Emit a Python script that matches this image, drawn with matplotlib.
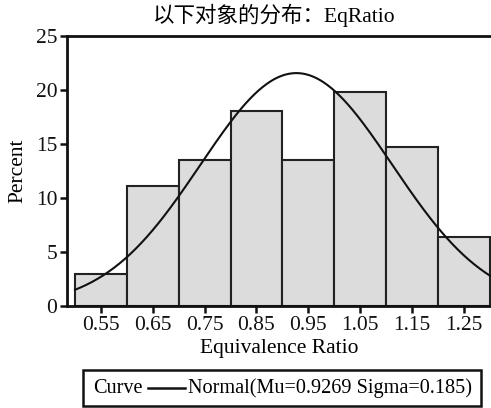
import numpy as np
import matplotlib.pyplot as plt
from matplotlib.patches import Rectangle
from matplotlib.lines import Line2D

plt.rcParams["font.family"] = ["Liberation Serif", "Noto Sans CJK SC", "DejaVu Sans"]

# histogram data (percent per bin)
bin_edges = [0.50, 0.60, 0.70, 0.80, 0.90, 1.00, 1.10, 1.20, 1.30]
percents = [3.0, 11.1, 13.5, 18.1, 13.5, 19.8, 14.7, 6.4]
tick_values = [0.55, 0.65, 0.75, 0.85, 0.95, 1.05, 1.15, 1.25]
tick_labels = ["0.55", "0.65", "0.75", "0.85", "0.95", "1.05", "1.15", "1.25"]

# fitted normal curve parameters
mu = 0.9269
sigma = 0.185
bin_width = 0.1

title = "以下对象的分布：EqRatio"
legend_text = "Normal(Mu=0.9269 Sigma=0.185)"


def main():
    fig = plt.figure(figsize=(4.91, 4.08), dpi=100)
    ax = fig.add_axes([0.1365, 0.25, 0.863, 0.6618])

    lefts = bin_edges[:-1]
    widths = np.diff(bin_edges)
    ax.bar(lefts, percents, width=widths, align="edge",
           color="#dcdcdc", edgecolor="#222222", linewidth=1.5)

    xs = np.linspace(bin_edges[0], bin_edges[-1], 300)
    ys = 100 * bin_width * np.exp(-0.5 * ((xs - mu) / sigma) ** 2) / (sigma * np.sqrt(2 * np.pi))
    ax.plot(xs, ys, color="#111111", linewidth=1.5)

    ax.set_xlim(0.4845, 1.302)
    ax.set_ylim(0, 25)
    ax.set_xticks(tick_values)
    ax.set_xticklabels(tick_labels)
    ax.set_yticks([0, 5, 10, 15, 20, 25])

    for side in ["left", "top", "bottom"]:
        ax.spines[side].set_linewidth(2.0)
        ax.spines[side].set_color("#111111")
    ax.spines["right"].set_visible(False)

    ax.tick_params(axis="both", direction="out", length=5, width=1.8,
                   labelsize=15.5, colors="#111111", pad=2)

    ax.set_xlabel("Equivalence Ratio", fontsize=15.5, labelpad=3)
    ax.set_ylabel("Percent", fontsize=15.5, labelpad=6)
    fig.text(0.558, 0.963, title, fontsize=15.5, ha="center", va="center")

    # legend box below the axes
    fig.patches.append(Rectangle((0.169, 0.004), 0.811, 0.089, transform=fig.transFigure,
                                 fill=False, edgecolor="#111111", linewidth=1.8))
    fig.text(0.189, 0.048, "Curve", fontsize=14.6, ha="left", va="center")
    fig.lines.append(Line2D([0.301, 0.377], [0.048, 0.048], transform=fig.transFigure,
                            color="#111111", linewidth=1.8))
    fig.text(0.382, 0.048, legend_text, fontsize=14.6, ha="left", va="center")

    fig.savefig("out.png", dpi=100)
    plt.close(fig)


if __name__ == "__main__":
    main()
